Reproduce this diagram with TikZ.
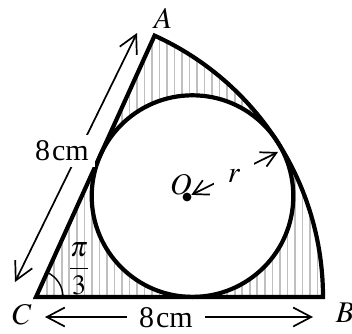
\documentclass[tikz,border=0pt]{standalone}
\usepackage{amsmath,mathptmx}
\usepackage{fontspec}
\setmainfont{Liberation Serif}
\usetikzlibrary{arrows.meta}

\begin{document}
\begin{tikzpicture}[x=0.5pt,y=0.5pt,>={Straight Barb[length=9pt,width=9.5pt]},
 edge/.style={line width=2.1pt},
 hatch/.style={gray!50,line width=0.8pt},
 dim/.style={line width=0.85pt,<->},
 lbl/.style={inner sep=0pt,font=\fontsize{15}{18}\selectfont},
 gaplbl/.style={lbl,fill=white,inner sep=3pt}]
\useasboundingbox (0,0) rectangle (352,333);
\coordinate (C) at (36,36);
\coordinate (B) at (323,36);
\path (C) ++(65.6:287) coordinate (A);
\coordinate (Oc) at (192.5,136.9);
% shaded part of the sector
\begin{scope}[even odd rule]
\clip (C) -- (B) arc[start angle=0,end angle=65.6,radius=287] -- cycle
 (Oc) circle[radius=100.8];
\foreach \i in {0,...,38}
 \draw[hatch] ({46.7+7.52*\i},30) -- ++(0,280);
\end{scope}
\draw[edge] (C) -- (B) arc[start angle=0,end angle=65.6,radius=287] -- cycle;
\draw[edge] (Oc) circle[radius=100.8];
\draw[line width=0.7pt] (C) ++(27,0) arc[start angle=0,end angle=65.6,radius=27];
\node[lbl,font=\fontsize{14}{16}\selectfont] (angC) at (79,64) {$\dfrac{\pi}{3}$};
% vertices
\node[lbl] (Alab) at (163,315) {$A$};
\node[lbl] (Blab) at (345,20) {$B$};
\node[lbl] (Clab) at (22,18) {$C$};
% lengths
\coordinate (ca1) at (15,51);
\coordinate (ca2) at (137,300);
\draw[dim] (ca1) -- (ca2);
\node[gaplbl] (lenCA) at (62,182) {8\kern1pt cm};
\coordinate (cb1) at (45,16);
\coordinate (cb2) at (313,16);
\draw[dim] (cb1) -- (cb2);
\node[gaplbl,inner xsep=6pt] (lenCB) at (166,15.5) {8\kern1pt cm};
% centre and radius
\node[circle,fill,inner sep=0pt,minimum size=4.4pt] (O) at (187,136) {};
\node[lbl] (Olab) at (181,148) {$O$};
\coordinate (T) at (278,181);
\draw[dim,>={Straight Barb[length=7.5pt,width=8pt]}] (O) -- (T);
\node[gaplbl,inner sep=7pt] (rlab) at (234,157) {$r$};
\end{tikzpicture}
\end{document}
